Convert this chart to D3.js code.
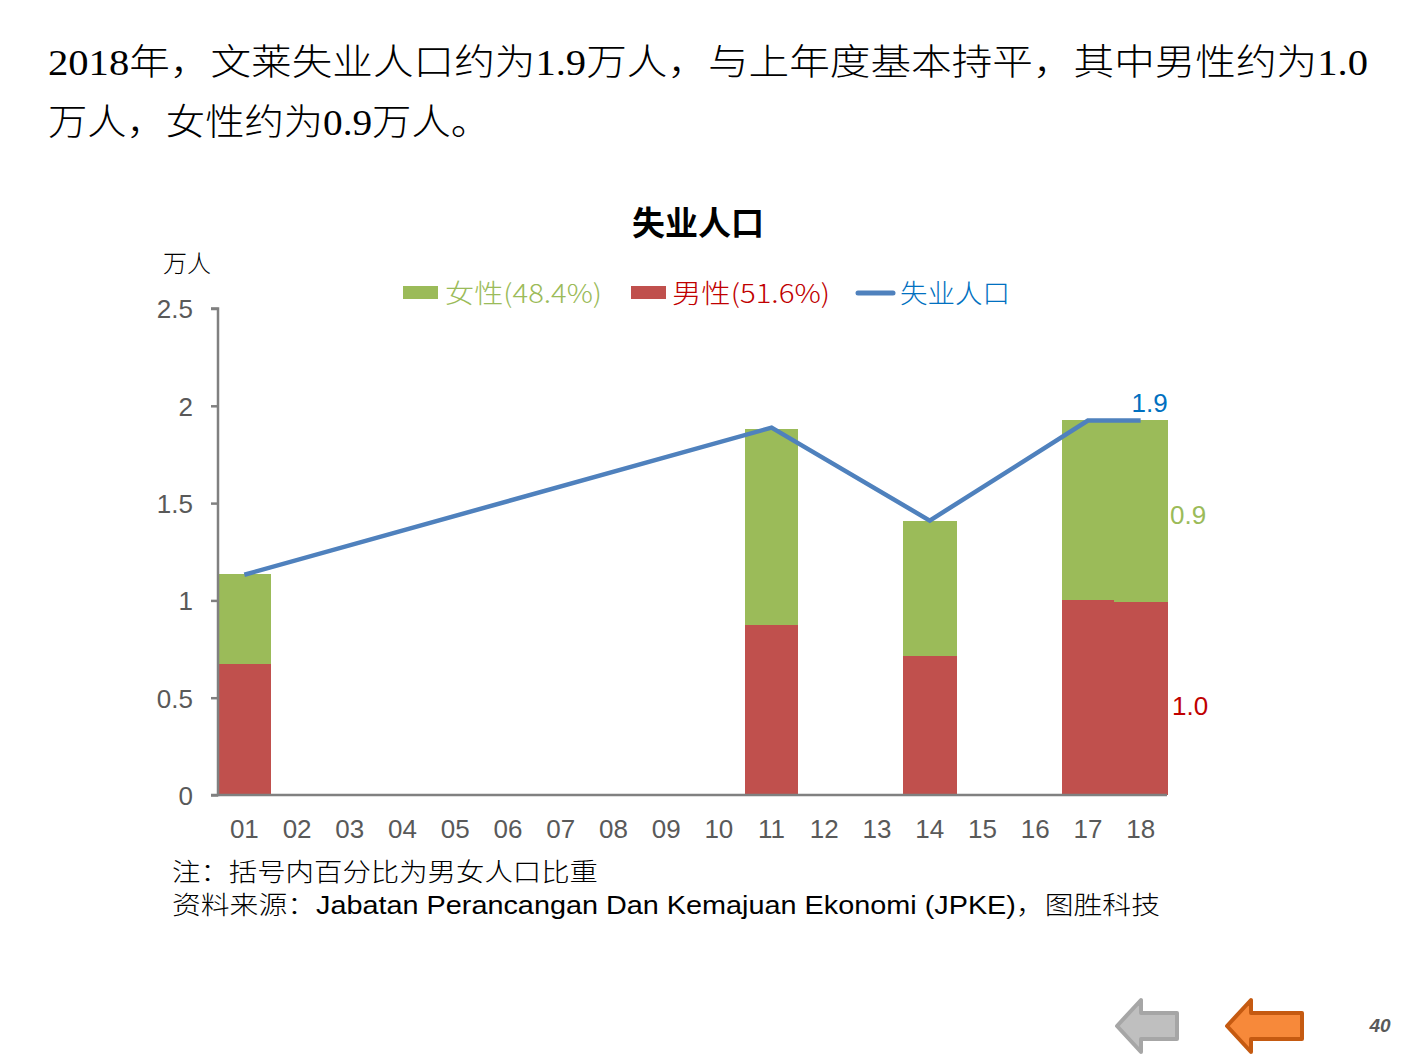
<!DOCTYPE html>
<html><head><meta charset="utf-8">
<script src="https://cdn.jsdelivr.net/npm/d3@7"></script>
<style>
html,body{margin:0;padding:0;background:#fff;}
svg{display:block;}
</style></head>
<body>
<svg id="c" width="1411" height="1058"></svg>
<script>
const categories = ["01","02","03","04","05","06","07","08","09","10","11","12","13","14","15","16","17","18"];
const maleValues   = [0.674,null,null,null,null,null,null,null,null,null,0.874,null,null,0.715,null,null,1.003,0.993];
const femaleValues = [0.463,null,null,null,null,null,null,null,null,null,1.009,null,null,0.695,null,null,0.926,0.936];
const totalValues  = [1.132,null,null,null,null,null,null,null,null,null,1.888,null,null,1.410,null,null,1.924,1.924];
const yTicks = [0,0.5,1,1.5,2,2.5];
const yTickLabels = ["0","0.5","1","1.5","2","2.5"];
const legendLabels = ["女性(48.4%)","男性(51.6%)","失业人口"];
const headline = ["2018年，文莱失业人口约为1.9万人，与上年度基本持平，其中男性约为1.0","万人，女性约为0.9万人。"];
const notes = ["注：括号内百分比为男女人口比重","资料来源：Jabatan Perancangan Dan Kemajuan Ekonomi (JPKE)，图胜科技"];
const endLabels = {total:"1.9", female:"0.9", male:"1.0"};

const GREEN="#9BBB59", RED="#C0504D", BLUE="#4F81BD";
const svg = d3.select("#c");
const sans = "'Liberation Sans', Arial, 'Noto Sans CJK SC', sans-serif";
const serif = "'Liberation Serif', 'Noto Sans CJK SC', serif";

// headline
svg.append("text").attr("x",48).attr("y",75).attr("font-family",serif).attr("font-size",36).attr("font-weight",300)
  .attr("textLength",1320).attr("lengthAdjust","spacingAndGlyphs").attr("fill","#000").text(headline[0]);
svg.append("text").attr("x",48).attr("y",135).attr("font-family",serif).attr("font-size",36).attr("font-weight",300)
  .attr("textLength",442).attr("lengthAdjust","spacingAndGlyphs").attr("fill","#000").text(headline[1]);

// title
svg.append("text").attr("x",698).attr("y",235).attr("text-anchor","middle").attr("font-family","'Noto Sans CJK SC', sans-serif")
  .attr("font-size",33).attr("font-weight","bold").attr("fill","#000").text("失业人口");
svg.append("text").attr("x",163).attr("y",272).attr("font-family","'Noto Sans CJK SC', sans-serif").attr("font-weight",300)
  .attr("font-size",24).attr("fill","#000").text("万人");

// scales
const x = d3.scaleBand().domain(categories).range([218,1167]).padding(0);
const y = d3.scaleLinear().domain([0,2.5]).range([795,308.5]);

// bars
const g = svg.append("g").attr("shape-rendering","crispEdges");
categories.forEach((c,i)=>{
  if(maleValues[i]!=null){
    g.append("rect").attr("x",x(c)).attr("width",x.bandwidth()+0.5).attr("y",y(maleValues[i]))
      .attr("height",y(0)-y(maleValues[i])).attr("fill",RED);
  }
  if(femaleValues[i]!=null){
    const base = maleValues[i]||0;
    g.append("rect").attr("x",x(c)).attr("width",x.bandwidth()+0.5).attr("y",y(base+femaleValues[i]))
      .attr("height",y(base)-y(base+femaleValues[i])).attr("fill",GREEN);
  }
});

// axes
const yAxis = d3.axisLeft(y).tickValues(yTicks).tickFormat((d,i)=>yTickLabels[i]).tickSize(7).tickPadding(18);
const ya = svg.append("g").attr("transform","translate(218,0)").call(yAxis);
ya.select(".domain").attr("stroke","#808080").attr("stroke-width",2.5).attr("d","M-7,308.5H0V795H-7");
ya.selectAll(".tick line").attr("stroke","#808080").attr("stroke-width",2.5);
ya.selectAll(".tick text").attr("font-family",sans).attr("font-size",26).attr("fill","#595959").attr("dy","0.36em");

const xAxis = d3.axisBottom(x).tickSize(0).tickPadding(25);
const xa = svg.append("g").attr("transform","translate(0,795)").call(xAxis);
xa.select(".domain").attr("stroke","#808080").attr("stroke-width",2.5).attr("d","M218,0H1167");
xa.selectAll(".tick text").attr("font-family",sans).attr("font-size",26).attr("fill","#595959").attr("dy","0.71em");

// line
const pts = categories.map((c,i)=>({c,v:totalValues[i]})).filter(d=>d.v!=null);
const line = d3.line().x(d=>x(d.c)+x.bandwidth()/2).y(d=>y(d.v));
svg.append("path").datum(pts).attr("d",line).attr("fill","none").attr("stroke",BLUE).attr("stroke-width",4.5).attr("stroke-linejoin","miter");

// end labels
const last = categories.length-1, lc = categories[last];
svg.append("text").attr("x",x(lc)+x.bandwidth()/2+9).attr("y",y(totalValues[last])-9).attr("text-anchor","middle")
  .attr("font-family",sans).attr("font-size",26).attr("fill","#0070C0").text(endLabels.total);
svg.append("text").attr("x",x(lc)+x.bandwidth()+3).attr("y",y(maleValues[last]+femaleValues[last]/2)+13)
  .attr("font-family",sans).attr("font-size",26).attr("fill",GREEN).text(endLabels.female);
svg.append("text").attr("x",x(lc)+x.bandwidth()+5).attr("y",y(maleValues[last]/2)+17)
  .attr("font-family",sans).attr("font-size",26).attr("fill","#C00000").text(endLabels.male);

// legend
const lg = svg.append("g").attr("font-family","'Noto Sans CJK SC', "+sans).attr("font-size",26).attr("font-weight",300);
lg.append("rect").attr("x",403).attr("y",286).attr("width",35).attr("height",13).attr("fill",GREEN);
lg.append("text").attr("x",445).attr("y",303).attr("fill",GREEN).attr("textLength",157).attr("lengthAdjust","spacingAndGlyphs").text(legendLabels[0]);
lg.append("rect").attr("x",631).attr("y",286).attr("width",35).attr("height",13).attr("fill",RED);
lg.append("text").attr("x",672).attr("y",303).attr("fill","#C00000").attr("textLength",158).attr("lengthAdjust","spacingAndGlyphs").text(legendLabels[1]);
lg.append("line").attr("x1",858).attr("x2",893).attr("y1",293).attr("y2",293).attr("stroke",BLUE).attr("stroke-width",5).attr("stroke-linecap","round");
lg.append("text").attr("x",900).attr("y",303).attr("fill","#0070C0").attr("textLength",110).attr("lengthAdjust","spacingAndGlyphs").text(legendLabels[2]);

// notes
svg.append("text").attr("x",172).attr("y",881).attr("font-family","'Noto Sans CJK SC', sans-serif").attr("font-size",25).attr("font-weight",300)
  .attr("textLength",426).attr("lengthAdjust","spacingAndGlyphs").attr("fill","#000").text(notes[0]);
svg.append("text").attr("x",172).attr("y",914).attr("font-family","'Liberation Sans', 'Noto Sans CJK SC', sans-serif").attr("font-size",25).attr("font-weight",300)
  .attr("textLength",988).attr("lengthAdjust","spacingAndGlyphs").attr("fill","#000").text(notes[1]);

// navigation arrows
function arrow(x0,y0,len,fill,stroke){
  const p = `M${x0},${y0+26} L${x0+24},${y0} L${x0+24},${y0+13} L${x0+len},${y0+13} L${x0+len},${y0+39} L${x0+24},${y0+39} L${x0+24},${y0+52} Z`;
  svg.append("path").attr("d",p).attr("fill",fill).attr("stroke",stroke).attr("stroke-width",4).attr("stroke-linejoin","round");
}
arrow(1117,1000,60,"#BFBFBF","#A6A6A6");
arrow(1227,1000,75,"#F7893A","#C55A11");
svg.append("text").attr("x",1380).attr("y",1032).attr("text-anchor","middle").attr("font-family",sans)
  .attr("font-size",19).attr("font-style","italic").attr("font-weight","bold").attr("fill","#595959").text("40");
</script>
</body></html>
